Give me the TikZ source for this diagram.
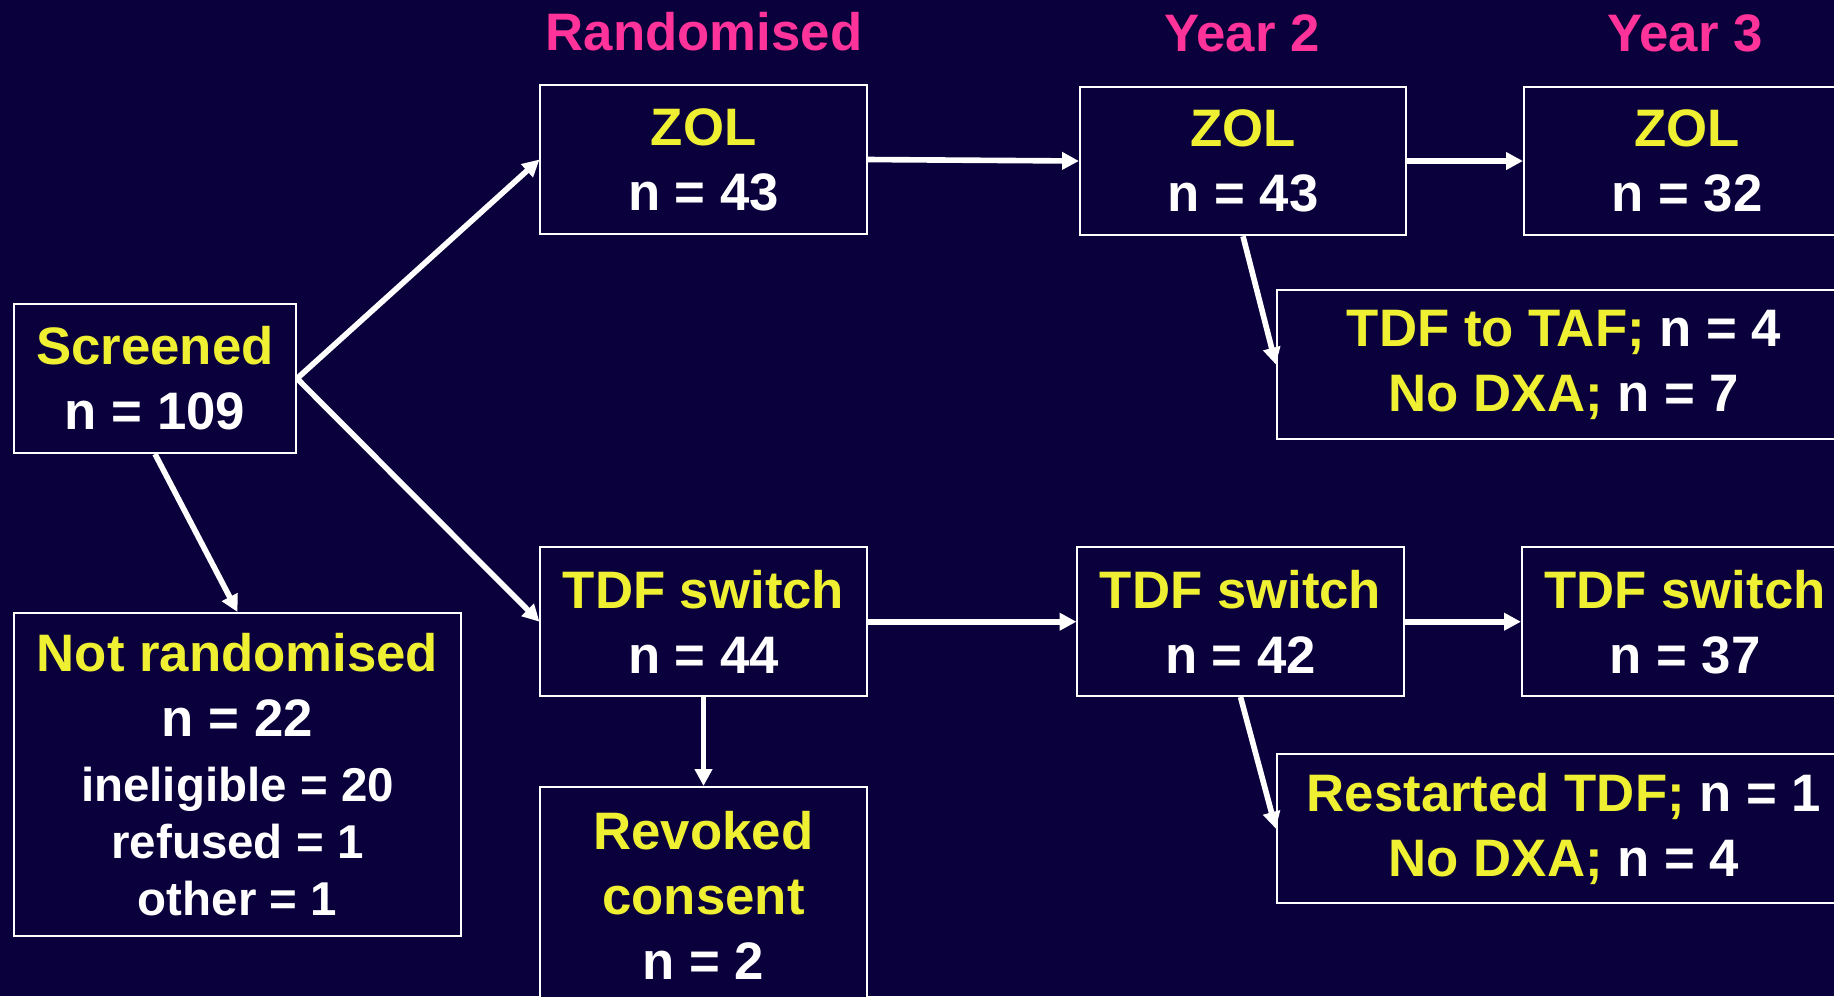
\documentclass[tikz,border=0pt]{standalone}
\usepackage{fontspec}
\setmainfont{Liberation Sans}
\usepackage{tikz}
\usetikzlibrary{arrows.meta}
\definecolor{navy}{RGB}{10,0,60}
\definecolor{boxtext}{RGB}{240,240,50}
\definecolor{heading}{RGB}{255,51,153}
\newcommand{\nval}[1]{\textcolor{white}{#1}}
\newcommand{\smalltxt}{\fontsize{13.5}{16.2}\selectfont}

\begin{document}
\begin{tikzpicture}[x=0.01cm, y=-0.01cm,
    box/.style={draw=white, line width=0.55pt, fill=navy, text=boxtext, inner sep=0pt, align=center,
        minimum width=3.26cm, minimum height=1.485cm, font=\bfseries\fontsize{15}{18.5}\selectfont},
    yearhead/.style={text=heading, anchor=base, font=\bfseries\fontsize{15}{18.5}\selectfont},
    flow/.style={draw=white, line width=1.6pt, -{Triangle[length=4.8pt,width=4.8pt]}}]
    %% Background
    \useasboundingbox (0,0) rectangle (1834,996);
    \fill[navy] (0,0) rectangle (1834,996);
    %% Headings
    \node[yearhead] (headrand) at (704,50) {Randomised};
    \node[yearhead] (headtwo) at (1242,51) {Year 2};
    \node[yearhead] (headthree) at (1685,51) {Year 3};
    %% Boxes
    \node[box, minimum width=2.82cm, minimum height=1.49cm] (screened) at (155,378.5) {Screened\\ \nval{n = 109}};
    \node[box, minimum width=4.47cm, minimum height=3.23cm] (notrand) at (237.5,774.5)
        {Not randomised\\ \nval{n = 22}\\ \nval{\smalltxt ineligible = 20}\\[-2.4pt]
         \nval{\smalltxt refused = 1}\\[-2.4pt] \nval{\smalltxt other = 1}};
    \node[box] (zolrand) at (703.5,159.5) {ZOL\\ \nval{n = 43}};
    \node[box] (tdfrand) at (703.5,621.7) {TDF switch\\ \nval{n = 44}};
    \node[box, minimum height=2.16cm] (revoked) at (703.5,895) {Revoked\\ consent\\ \nval{n = 2}};
    \node[box] (zolyrtwo) at (1243,161) {ZOL\\ \nval{n = 43}};
    \node[box] (tdfyrtwo) at (1240.5,621.7) {TDF switch\\ \nval{n = 42}};
    \node[box] (zolyrthree) at (1687,161) {ZOL\\ \nval{n = 32}};
    \node[box] (tdfyrthree) at (1685,621.7) {TDF switch\\ \nval{n = 37}};
    \node[box, minimum width=5.74cm] (zolloss) at (1564,364.5) {TDF to TAF; \nval{n = 4}\\ No DXA; \nval{n = 7}};
    \node[box, minimum width=5.74cm] (tdfloss) at (1564,828.7) {Restarted TDF; \nval{n = 1}\\ No DXA; \nval{n = 4}};
    %% Arrows
    \draw[flow] (screened.east) -- (zolrand.west);
    \draw[flow] (screened.east) -- (tdfrand.west);
    \draw[flow] (screened.south) -- (notrand.north);
    \draw[flow] (zolrand.east) -- (zolyrtwo.west);
    \draw[flow] (zolyrtwo.east) -- (zolyrthree.west);
    \draw[flow] (tdfrand.east) -- (tdfyrtwo.west);
    \draw[flow] (tdfyrtwo.east) -- (tdfyrthree.west);
    \draw[flow] (tdfrand.south) -- (revoked.north);
    \draw[flow] (zolyrtwo.south) -- (zolloss.west);
    \draw[flow] (tdfyrtwo.south) -- (tdfloss.west);
\end{tikzpicture}
\end{document}
